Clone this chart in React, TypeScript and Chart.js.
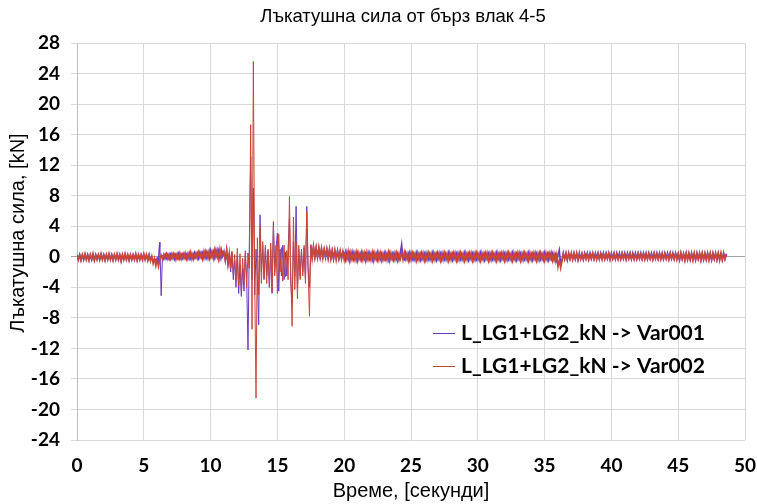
import React, { useEffect, useRef } from "react";
import { Chart, registerables } from "chart.js";

Chart.register(...registerables);

const TITLE = "Лъкатушна сила от бърз влак 4-5";
const X_TITLE = "Време, [секунди]";
const Y_TITLE = "Лъкатушна сила, [kN]";
const SERIES_NAMES = ["L_LG1+LG2_kN -> Var001", "L_LG1+LG2_kN -> Var002"];

// sampling grid of the recorded signals (seconds)
const T_START = 0;
const T_STEP = 0.1;

const X_MIN = 0;
const X_MAX = 50;
const X_STEP = 5;
const Y_MIN = -24;
const Y_MAX = 28;
const Y_STEP = 4;

// Var001 (purple), one row per second, 10 samples each
const VAR001 = [
  0.2, -0.3, 0.3, -0.4, 0.2, -0.4, 0.3, -0.3, 0.3, -0.4,
  0.2, -0.4, 0.3, -0.4, 0.3, -0.3, 0.2, -0.4, 0.3, -0.3,
  0.3, -0.4, 0.2, -0.3, 0.3, -0.4, 0.3, -0.4, 0.2, -0.3,
  0.3, -0.4, 0.2, -0.5, 0.3, -0.3, 0.3, -0.4, 0.2, -0.4,
  0.3, -0.3, 0.2, -0.4, 0.3, -0.4, 0.3, -0.3, 0.2, -0.4,
  0.3, -0.3, 0.2, -0.4, 0.3, -0.4, -0.2, -0.6, -0.3, -0.5,
  -0.2, -0.6, 1.9, -5.1, 0.2, -0.3, 0.3, -0.2, 0.3, -0.3,
  0.3, -0.2, 0.4, -0.3, 0.3, -0.2, 0.4, -0.3, 0.3, -0.2,
  0.4, -0.2, 0.3, -0.3, 0.5, -0.2, 0.4, -0.3, 0.5, -0.1,
  0.5, -0.2, 0.6, -0.1, 0.5, -0.2, 0.7, -0.1, 0.6, -0.2,
  0.8, 0.0, 0.7, -0.1, 0.9, 0.0, 0.8, -0.2, 0.9, 0.1,
  0.7, -0.4, 0.8, -1.0, 0.4, -2.0, 0.5, -3.0, -0.5, -4.0,
  0.2, -4.8, -1.0, -5.2, -1.5, -4.5, 0.5, -3.0, -12.2, 2.0,
  13.1, -3.0, 9.0, -5.0, 1.0, -3.0, -8.9, 5.5, -2.0, 1.5,
  -3.0, 1.2, -2.5, 0.8, -4.0, 1.0, -4.8, 4.6, -2.0, 1.2,
  3.1, -4.5, 1.0, -2.5, 1.5, -3.0, 0.6, -2.5, 1.0, 5.0,
  -3.5, -6.0, 2.0, -2.5, 6.6, -4.0, 1.0, -2.5, 0.8, -2.0,
  1.2, -3.0, 6.6, -1.5, -4.0, 1.4, 0.0, 1.2, -0.1, 1.1,
  0.0, 1.1, -0.1, 1.0, 0.0, 0.9, -0.1, 1.0, -0.2, 0.9,
  -0.2, 0.8, -0.3, 0.7, -0.2, 0.8, -0.3, 0.6, -0.2, 0.7,
  0.5, -0.4, 0.6, -0.3, 0.5, -0.4, 0.6, -0.3, 0.5, -0.4,
  0.5, -0.3, 0.4, -0.4, 0.5, -0.3, 0.4, -0.4, 0.5, -0.3,
  0.4, -0.4, 0.5, -0.3, 0.4, -0.4, 0.5, -0.3, 0.4, -0.4,
  0.5, -0.3, 0.4, -0.4, 0.5, -0.3, 0.4, -0.4, 0.5, -0.3,
  0.4, -0.4, 0.5, 1.6, -0.3, -0.4, 0.5, -0.3, 0.4, -0.4,
  0.5, -0.3, 0.4, -0.4, 0.5, -0.3, 0.4, -0.4, 0.5, -0.3,
  0.4, -0.4, 0.5, -0.3, 0.4, -0.4, 0.5, -0.3, 0.4, -0.4,
  0.5, -0.3, 0.4, -0.4, 0.5, -0.3, 0.4, -0.4, 0.5, -0.3,
  0.4, -0.4, 0.5, -0.3, 0.4, -0.4, 0.5, -0.3, 0.4, -0.4,
  0.5, -0.3, 0.4, -0.4, 0.5, -0.3, 0.4, -0.4, 0.5, -0.3,
  0.4, -0.4, 0.5, -0.3, 0.4, -0.4, 0.5, -0.3, 0.4, -0.4,
  0.5, -0.3, 0.4, -0.4, 0.5, -0.3, 0.4, -0.4, 0.5, -0.3,
  0.4, -0.4, 0.5, -0.3, 0.4, -0.4, 0.5, -0.3, 0.4, -0.4,
  0.5, -0.3, 0.4, -0.4, 0.5, -0.3, 0.4, -0.4, 0.5, -0.3,
  0.4, -0.4, 0.5, -0.3, 0.4, -0.4, 0.5, -0.3, 0.4, -0.4,
  0.5, -0.3, 0.4, -0.4, 0.5, -0.3, 0.4, -0.4, 0.3, -0.5,
  0.2, 0.9, -1.0, -0.4, 0.5, -0.3, 0.4, -0.4, 0.5, -0.3,
  0.4, -0.3, 0.5, -0.3, 0.4, -0.4, 0.5, -0.3, 0.4, -0.3,
  0.5, -0.2, 0.5, -0.3, 0.5, -0.2, 0.5, -0.3, 0.5, -0.2,
  0.5, -0.3, 0.5, -0.2, 0.5, -0.3, 0.5, -0.2, 0.5, -0.3,
  0.5, -0.2, 0.5, -0.3, 0.5, -0.2, 0.5, -0.3, 0.5, -0.2,
  0.5, -0.3, 0.5, -0.2, 0.5, -0.3, 0.5, -0.2, 0.5, -0.3,
  0.5, -0.2, 0.5, -0.3, 0.5, -0.2, 0.5, -0.3, 0.5, -0.2,
  0.5, -0.3, 0.5, -0.2, 0.5, -0.3, 0.5, -0.2, 0.5, -0.3,
  0.5, -0.2, 0.5, -0.3, 0.5, -0.2, 0.5, -0.3, 0.5, -0.2,
  0.4, -0.4, 0.5, -0.3, 0.4, -0.4, 0.5, -0.3, 0.4, -0.4,
  0.5, -0.3, 0.4, -0.4, 0.5, -0.3, 0.4, -0.4, 0.5, -0.3,
  0.4, -0.4, 0.5, -0.3, 0.4, -0.4, 0.5, -0.3, 0.4, -0.4,
  0.5, -0.3, 0.4, -0.4, 0.5, -0.3, 0.4,
];

// Var002 (red), one row per second, 10 samples each
const VAR002 = [
  0.3, -0.4, 0.2, -0.5, 0.3, -0.3, 0.4, -0.4, 0.2, -0.5,
  0.3, -0.3, 0.4, -0.5, 0.2, -0.4, 0.3, -0.3, 0.4, -0.4,
  0.2, -0.5, 0.3, -0.4, 0.4, -0.3, 0.2, -0.5, 0.3, -0.4,
  0.4, -0.3, 0.3, -0.6, 0.2, -0.4, 0.4, -0.3, 0.3, -0.5,
  0.2, -0.4, 0.3, -0.3, 0.4, -0.5, 0.2, -0.4, 0.3, -0.3,
  0.4, -0.4, 0.3, -0.5, 0.2, -0.6, 0.1, -0.9, -0.2, -1.2,
  -0.4, -1.3, -0.3, 0.2, -0.3, 0.3, -0.2, 0.4, -0.3, 0.3,
  -0.3, 0.4, -0.2, 0.3, -0.4, 0.4, -0.2, 0.5, -0.3, 0.3,
  -0.2, 0.5, -0.3, 0.4, -0.2, 0.6, -0.3, 0.4, -0.1, 0.5,
  -0.2, 0.6, -0.1, 0.5, -0.3, 0.7, -0.1, 0.6, -0.2, 0.8,
  0.0, 0.7, -0.2, 0.9, 0.0, 0.8, -0.3, 1.0, -0.1, 0.7,
  0.6, -0.5, 0.9, -0.8, 0.5, -1.5, 0.7, -2.2, 0.3, -3.0,
  1.1, -3.8, 0.4, -4.4, -0.2, -3.5, 0.8, -4.0, 0.5, -1.5,
  17.3, -9.5, 25.6, -3.0, -18.5, 2.5, -5.0, 4.0, -3.5, 2.0,
  -2.8, 1.5, -3.5, 1.0, -4.0, 1.8, -4.6, 4.0, -2.5, 1.5,
  -4.8, 3.0, -2.0, 1.2, -3.2, 1.5, -2.6, 0.8, -3.0, 7.9,
  -2.0, -9.1, 5.2, -4.3, 2.0, -5.5, 1.5, -3.0, 1.0, -2.5,
  1.5, -3.5, 6.0, -2.0, -7.8, 1.6, -0.2, 1.4, 0.0, 1.2,
  -0.1, 1.2, 0.0, 1.1, -0.2, 1.0, 0.1, 0.9, -0.2, 1.0,
  -0.3, 0.8, -0.2, 0.9, -0.4, 0.7, -0.2, 0.8, -0.3, 0.7,
  -0.4, 0.6, -0.3, 0.7, -0.5, 0.6, -0.3, 0.5, -0.4, 0.6,
  -0.5, 0.5, -0.3, 0.6, -0.4, 0.5, -0.5, 0.6, -0.3, 0.5,
  -0.4, 0.6, -0.5, 0.5, -0.3, 0.6, -0.4, 0.5, -0.5, 0.4,
  -0.3, 0.5, -0.4, 0.6, -0.5, 0.5, -0.3, 0.4, -0.4, 0.5,
  -0.5, 0.4, -0.3, 0.5, -0.4, 0.6, -0.3, 0.4, -0.5, 0.5,
  -0.4, 0.5, -0.3, 0.4, -0.5, 0.5, -0.4, 0.4, -0.3, 0.5,
  -0.5, 0.4, -0.4, 0.5, -0.3, 0.4, -0.5, 0.5, -0.4, 0.4,
  -0.3, 0.5, -0.5, 0.4, -0.4, 0.5, -0.3, 0.4, -0.5, 0.5,
  -0.4, 0.4, -0.3, 0.5, -0.5, 0.4, -0.4, 0.5, -0.3, 0.4,
  -0.5, 0.5, -0.4, 0.4, -0.3, 0.5, -0.5, 0.4, -0.4, 0.5,
  -0.3, 0.4, -0.5, 0.5, -0.4, 0.4, -0.3, 0.5, -0.5, 0.4,
  -0.4, 0.5, -0.3, 0.4, -0.5, 0.5, -0.4, 0.4, -0.3, 0.5,
  -0.5, 0.4, -0.4, 0.5, -0.3, 0.4, -0.5, 0.5, -0.4, 0.4,
  -0.3, 0.5, -0.5, 0.4, -0.4, 0.5, -0.3, 0.4, -0.5, 0.5,
  -0.4, 0.4, -0.3, 0.5, -0.5, 0.4, -0.4, 0.5, -0.3, 0.4,
  -0.5, 0.5, -0.4, 0.4, -0.3, 0.5, -0.5, 0.4, -0.6, 0.3,
  -1.3, -0.4, -1.5, -0.6, 0.4, -0.3, 0.5, -0.4, 0.4, -0.3,
  0.5, -0.4, 0.4, -0.3, 0.5, -0.4, 0.3, -0.3, 0.4, -0.4,
  0.3, -0.3, 0.4, -0.4, 0.3, -0.3, 0.4, -0.3, 0.3, -0.4,
  0.4, -0.3, 0.3, -0.4, 0.4, -0.3, 0.3, -0.3, 0.4, -0.4,
  0.3, -0.3, 0.4, -0.3, 0.3, -0.4, 0.3, -0.3, 0.4, -0.3,
  0.3, -0.4, 0.3, -0.3, 0.4, -0.3, 0.3, -0.4, 0.3, -0.3,
  0.4, -0.3, 0.3, -0.3, 0.4, -0.4, 0.3, -0.3, 0.4, -0.3,
  0.3, -0.4, 0.4, -0.3, 0.3, -0.3, 0.4, -0.4, 0.3, -0.3,
  0.4, -0.3, 0.3, -0.4, 0.4, -0.3, 0.3, -0.3, 0.4, -0.4,
  0.4, -0.4, 0.5, -0.3, 0.4, -0.5, 0.4, -0.4, 0.5, -0.3,
  0.4, -0.5, 0.5, -0.4, 0.4, -0.3, 0.5, -0.5, 0.4, -0.4,
  0.5, -0.3, 0.4, -0.5, 0.5, -0.4, 0.4, -0.3, 0.5, -0.4,
  0.4, -0.5, 0.5, -0.4, 0.4, -0.3, 0.3,
];

const COLORS = ["#6a3ac0", "#c9463b"];

const NARROW = '"Liberation Sans Narrow", "Arial Narrow", "Liberation Sans", sans-serif';
const BOLD = 'Lato, "Open Sans", sans-serif';

const toPoints = (vals: number[]) => vals.map((v, i) => ({ x: T_START + i * T_STEP, y: v }));

// thicker stroke for the dense low-amplitude band, thin for spikes
const segWidth = (ctx: any) =>
  Math.abs(ctx.p0.parsed.y) < 2 && Math.abs(ctx.p1.parsed.y) < 2 ? 1.6 : 1;

const textPlugin = {
  id: "textPlugin",
  afterDraw(chart: any) {
    const { ctx, chartArea } = chart;
    ctx.save();
    ctx.fillStyle = "#000";
    ctx.textAlign = "center";
    ctx.textBaseline = "middle";
    ctx.font = `18.5px ${NARROW}`;
    ctx.fillText(TITLE, 403, 17);
    ctx.font = `20px ${NARROW}`;
    ctx.fillText(X_TITLE, (chartArea.left + chartArea.right) / 2, 491);
    ctx.save();
    ctx.translate(18, 233);
    ctx.rotate(-Math.PI / 2);
    ctx.fillText(Y_TITLE, 0, 0);
    ctx.restore();

    // legend inside the plot area
    const rows = [333, 366];
    ctx.font = `bold 21px ${BOLD}`;
    ctx.textAlign = "left";
    rows.forEach((y, i) => {
      ctx.strokeStyle = COLORS[i];
      ctx.lineWidth = 1;
      ctx.beginPath();
      ctx.moveTo(433, y + 0.5);
      ctx.lineTo(455, y + 0.5);
      ctx.stroke();
      ctx.fillStyle = "#000";
      ctx.fillText(SERIES_NAMES[i], 461, y);
    });
    ctx.restore();
  },
};

export default function App() {
  const ref = useRef<HTMLCanvasElement | null>(null);

  useEffect(() => {
    document.body.style.margin = "0";
    if (!ref.current) return;
    const chart = new Chart(ref.current, {
      type: "line",
      data: {
        datasets: [
          {
            label: SERIES_NAMES[0],
            data: toPoints(VAR001),
            borderColor: COLORS[0],
            borderWidth: 1,
            segment: { borderWidth: segWidth },
            pointRadius: 0,
            order: 2,
          },
          {
            label: SERIES_NAMES[1],
            data: toPoints(VAR002),
            borderColor: COLORS[1],
            borderWidth: 1,
            segment: { borderWidth: segWidth },
            pointRadius: 0,
            order: 1,
          },
        ],
      },
      options: {
        animation: false,
        responsive: true,
        maintainAspectRatio: false,
        layout: { padding: { left: 0, top: 43, right: 0, bottom: 0 } },
        plugins: {
          legend: { display: false },
          title: { display: false },
          tooltip: { enabled: false },
        },
        scales: {
          x: {
            type: "linear",
            min: X_MIN,
            max: X_MAX,
            ticks: {
              stepSize: X_STEP,
              color: "#000",
              font: { family: BOLD, size: 19, weight: "bold" },
              padding: 14,
              maxRotation: 0,
            },
            grid: { color: "#d9d9d9", drawTicks: false },
            border: { display: false },
            afterFit: (s: any) => {
              s.height = 64;
              s.paddingLeft = 0;
              s.paddingRight = 12;
            },
          },
          y: {
            min: Y_MIN,
            max: Y_MAX,
            ticks: {
              stepSize: Y_STEP,
              color: "#000",
              font: { family: BOLD, size: 19, weight: "bold" },
              padding: 11,
            },
            grid: {
              color: (c: any) => (c.tick && c.tick.value === 0 ? "#a6a6a6" : "#d9d9d9"),
              drawTicks: true,
              tickLength: 6,
            },
            border: { display: true, color: "#bfbfbf" },
            afterFit: (s: any) => {
              s.width = 77;
            },
          },
        },
      },
      plugins: [textPlugin],
    });
    if ((document as any).fonts) {
      Promise.all([
        (document as any).fonts.load(`bold 19px Lato`),
        (document as any).fonts.load(`18px "Liberation Sans Narrow"`),
      ])
        .then(() => chart.update())
        .catch(() => {});
    }
    return () => chart.destroy();
  }, []);

  return (
    <div style={{ position: "relative", width: 757, height: 504 }}>
      <canvas ref={ref} />
    </div>
  );
}
